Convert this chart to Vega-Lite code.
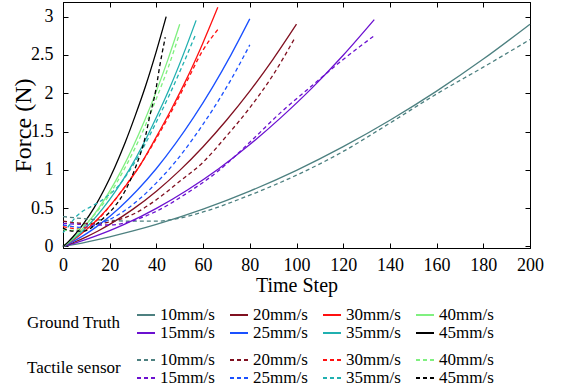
{
  "$schema": "https://vega.github.io/schema/vega-lite/v6.json",
  "width": 467,
  "height": 246,
  "autosize": {"type": "none"},
  "padding": {"left": 63, "top": 2, "right": 32, "bottom": 144},
  "background": "white",
  "config": {
    "font": "Liberation Serif",
    "view": {"stroke": "black", "strokeWidth": 1},
    "axis": {"domainColor": "black", "tickColor": "black", "labelColor": "black", "titleColor": "black", "grid": false, "labelFont": "Liberation Serif", "titleFont": "Liberation Serif", "labelFontSize": 18, "titleFontWeight": "normal", "tickSize": -5, "domainWidth": 1, "labelFlush": false},
    "legend": {"symbolType": "stroke", "symbolSize": 324, "symbolStrokeWidth": 2, "labelFontSize": 17, "titleFontSize": 17, "titleFontWeight": "normal", "titleOrient": "left", "titleAnchor": "middle", "titleBaseline": "middle", "titlePadding": 15, "columns": 4, "columnPadding": 11, "rowPadding": 0, "labelOffset": 4, "labelFont": "Liberation Serif", "titleFont": "Liberation Serif", "labelColor": "black", "titleColor": "black", "padding": 0, "direction": "horizontal"}
  },
  "data": {"values": [
    {"s":"GT","v":"10mm/s","t":0,"f":0},{"s":"GT","v":"10mm/s","t":10,"f":0.058},{"s":"GT","v":"10mm/s","t":20,"f":0.126},{"s":"GT","v":"10mm/s","t":30,"f":0.202},{"s":"GT","v":"10mm/s","t":40,"f":0.288},{"s":"GT","v":"10mm/s","t":60,"f":0.487},{"s":"GT","v":"10mm/s","t":80,"f":0.722},{"s":"GT","v":"10mm/s","t":100,"f":0.993},{"s":"GT","v":"10mm/s","t":120,"f":1.302},{"s":"GT","v":"10mm/s","t":140,"f":1.647},{"s":"GT","v":"10mm/s","t":160,"f":2.027},{"s":"GT","v":"10mm/s","t":180,"f":2.445},{"s":"GT","v":"10mm/s","t":200,"f":2.9},
    {"s":"GT","v":"15mm/s","t":0,"f":0},{"s":"GT","v":"15mm/s","t":6.7,"f":0.059},{"s":"GT","v":"15mm/s","t":13.3,"f":0.128},{"s":"GT","v":"15mm/s","t":20,"f":0.206},{"s":"GT","v":"15mm/s","t":26.7,"f":0.294},{"s":"GT","v":"15mm/s","t":40,"f":0.497},{"s":"GT","v":"15mm/s","t":53.3,"f":0.737},{"s":"GT","v":"15mm/s","t":66.7,"f":1.014},{"s":"GT","v":"15mm/s","t":80,"f":1.329},{"s":"GT","v":"15mm/s","t":93.3,"f":1.681},{"s":"GT","v":"15mm/s","t":106.7,"f":2.069},{"s":"GT","v":"15mm/s","t":120,"f":2.495},{"s":"GT","v":"15mm/s","t":133.3,"f":2.96},
    {"s":"GT","v":"20mm/s","t":0,"f":0},{"s":"GT","v":"20mm/s","t":5,"f":0.058},{"s":"GT","v":"20mm/s","t":10,"f":0.126},{"s":"GT","v":"20mm/s","t":15,"f":0.202},{"s":"GT","v":"20mm/s","t":20,"f":0.288},{"s":"GT","v":"20mm/s","t":30,"f":0.487},{"s":"GT","v":"20mm/s","t":40,"f":0.722},{"s":"GT","v":"20mm/s","t":50,"f":0.993},{"s":"GT","v":"20mm/s","t":60,"f":1.302},{"s":"GT","v":"20mm/s","t":70,"f":1.647},{"s":"GT","v":"20mm/s","t":80,"f":2.027},{"s":"GT","v":"20mm/s","t":90,"f":2.445},{"s":"GT","v":"20mm/s","t":100,"f":2.9},
    {"s":"GT","v":"25mm/s","t":0,"f":0},{"s":"GT","v":"25mm/s","t":4,"f":0.06},{"s":"GT","v":"25mm/s","t":8,"f":0.129},{"s":"GT","v":"25mm/s","t":12,"f":0.207},{"s":"GT","v":"25mm/s","t":16,"f":0.295},{"s":"GT","v":"25mm/s","t":24,"f":0.499},{"s":"GT","v":"25mm/s","t":32,"f":0.74},{"s":"GT","v":"25mm/s","t":40,"f":1.017},{"s":"GT","v":"25mm/s","t":48,"f":1.334},{"s":"GT","v":"25mm/s","t":56,"f":1.687},{"s":"GT","v":"25mm/s","t":64,"f":2.076},{"s":"GT","v":"25mm/s","t":72,"f":2.504},{"s":"GT","v":"25mm/s","t":80,"f":2.97},
    {"s":"GT","v":"30mm/s","t":0,"f":0},{"s":"GT","v":"30mm/s","t":3.3,"f":0.063},{"s":"GT","v":"30mm/s","t":6.6,"f":0.135},{"s":"GT","v":"30mm/s","t":9.9,"f":0.217},{"s":"GT","v":"30mm/s","t":13.3,"f":0.31},{"s":"GT","v":"30mm/s","t":19.9,"f":0.524},{"s":"GT","v":"30mm/s","t":26.5,"f":0.777},{"s":"GT","v":"30mm/s","t":33.2,"f":1.069},{"s":"GT","v":"30mm/s","t":39.8,"f":1.42},{"s":"GT","v":"30mm/s","t":46.4,"f":1.79},{"s":"GT","v":"30mm/s","t":53,"f":2.19},{"s":"GT","v":"30mm/s","t":59.7,"f":2.64},{"s":"GT","v":"30mm/s","t":66.3,"f":3.12},
    {"s":"GT","v":"35mm/s","t":0,"f":0},{"s":"GT","v":"35mm/s","t":2.85,"f":0.059},{"s":"GT","v":"35mm/s","t":5.7,"f":0.128},{"s":"GT","v":"35mm/s","t":8.55,"f":0.206},{"s":"GT","v":"35mm/s","t":11.4,"f":0.293},{"s":"GT","v":"35mm/s","t":17.1,"f":0.496},{"s":"GT","v":"35mm/s","t":22.8,"f":0.735},{"s":"GT","v":"35mm/s","t":28.5,"f":1.01},{"s":"GT","v":"35mm/s","t":34.2,"f":1.325},{"s":"GT","v":"35mm/s","t":39.9,"f":1.68},{"s":"GT","v":"35mm/s","t":45.6,"f":2.062},{"s":"GT","v":"35mm/s","t":51.3,"f":2.487},{"s":"GT","v":"35mm/s","t":57,"f":2.95},
    {"s":"GT","v":"40mm/s","t":0,"f":0},{"s":"GT","v":"40mm/s","t":2.5,"f":0.058},{"s":"GT","v":"40mm/s","t":5,"f":0.126},{"s":"GT","v":"40mm/s","t":7.5,"f":0.202},{"s":"GT","v":"40mm/s","t":10,"f":0.288},{"s":"GT","v":"40mm/s","t":15,"f":0.487},{"s":"GT","v":"40mm/s","t":20,"f":0.722},{"s":"GT","v":"40mm/s","t":25,"f":0.993},{"s":"GT","v":"40mm/s","t":30,"f":1.302},{"s":"GT","v":"40mm/s","t":35,"f":1.647},{"s":"GT","v":"40mm/s","t":40,"f":2.027},{"s":"GT","v":"40mm/s","t":45,"f":2.445},{"s":"GT","v":"40mm/s","t":50,"f":2.9},
    {"s":"GT","v":"45mm/s","t":0,"f":0},{"s":"GT","v":"45mm/s","t":2.2,"f":0.06},{"s":"GT","v":"45mm/s","t":4.4,"f":0.13},{"s":"GT","v":"45mm/s","t":6.6,"f":0.209},{"s":"GT","v":"45mm/s","t":8.8,"f":0.298},{"s":"GT","v":"45mm/s","t":13.3,"f":0.504},{"s":"GT","v":"45mm/s","t":17.7,"f":0.747},{"s":"GT","v":"45mm/s","t":22.1,"f":1.028},{"s":"GT","v":"45mm/s","t":26.5,"f":1.347},{"s":"GT","v":"45mm/s","t":30.9,"f":1.704},{"s":"GT","v":"45mm/s","t":35.4,"f":2.097},{"s":"GT","v":"45mm/s","t":39.8,"f":2.529},{"s":"GT","v":"45mm/s","t":44.2,"f":3.0},
    {"s":"TS","v":"10mm/s","t":0,"f":0.39},{"s":"TS","v":"10mm/s","t":10,"f":0.36},{"s":"TS","v":"10mm/s","t":20,"f":0.34},{"s":"TS","v":"10mm/s","t":30,"f":0.33},{"s":"TS","v":"10mm/s","t":40,"f":0.33},{"s":"TS","v":"10mm/s","t":50,"f":0.37},{"s":"TS","v":"10mm/s","t":60,"f":0.45},{"s":"TS","v":"10mm/s","t":80,"f":0.67},{"s":"TS","v":"10mm/s","t":100,"f":0.93},{"s":"TS","v":"10mm/s","t":120,"f":1.24},{"s":"TS","v":"10mm/s","t":140,"f":1.61},{"s":"TS","v":"10mm/s","t":160,"f":1.99},{"s":"TS","v":"10mm/s","t":180,"f":2.34},{"s":"TS","v":"10mm/s","t":200,"f":2.7},
    {"s":"TS","v":"15mm/s","t":0,"f":0.3},{"s":"TS","v":"15mm/s","t":6.7,"f":0.29},{"s":"TS","v":"15mm/s","t":13.3,"f":0.28},{"s":"TS","v":"15mm/s","t":20,"f":0.28},{"s":"TS","v":"15mm/s","t":26.7,"f":0.31},{"s":"TS","v":"15mm/s","t":40,"f":0.46},{"s":"TS","v":"15mm/s","t":53.3,"f":0.7},{"s":"TS","v":"15mm/s","t":66.7,"f":0.99},{"s":"TS","v":"15mm/s","t":80,"f":1.36},{"s":"TS","v":"15mm/s","t":93.3,"f":1.75},{"s":"TS","v":"15mm/s","t":106.7,"f":2.1},{"s":"TS","v":"15mm/s","t":120,"f":2.44},{"s":"TS","v":"15mm/s","t":133.3,"f":2.75},
    {"s":"TS","v":"20mm/s","t":0,"f":0.33},{"s":"TS","v":"20mm/s","t":5,"f":0.31},{"s":"TS","v":"20mm/s","t":10,"f":0.3},{"s":"TS","v":"20mm/s","t":15,"f":0.3},{"s":"TS","v":"20mm/s","t":20,"f":0.32},{"s":"TS","v":"20mm/s","t":30,"f":0.42},{"s":"TS","v":"20mm/s","t":40,"f":0.61},{"s":"TS","v":"20mm/s","t":50,"f":0.85},{"s":"TS","v":"20mm/s","t":60,"f":1.1},{"s":"TS","v":"20mm/s","t":70,"f":1.44},{"s":"TS","v":"20mm/s","t":80,"f":1.81},{"s":"TS","v":"20mm/s","t":90,"f":2.24},{"s":"TS","v":"20mm/s","t":99.3,"f":2.72},
    {"s":"TS","v":"25mm/s","t":0,"f":0.28},{"s":"TS","v":"25mm/s","t":4,"f":0.26},{"s":"TS","v":"25mm/s","t":8,"f":0.25},{"s":"TS","v":"25mm/s","t":12,"f":0.26},{"s":"TS","v":"25mm/s","t":16,"f":0.3},{"s":"TS","v":"25mm/s","t":24,"f":0.42},{"s":"TS","v":"25mm/s","t":32,"f":0.6},{"s":"TS","v":"25mm/s","t":40,"f":0.83},{"s":"TS","v":"25mm/s","t":48,"f":1.1},{"s":"TS","v":"25mm/s","t":56,"f":1.42},{"s":"TS","v":"25mm/s","t":64,"f":1.78},{"s":"TS","v":"25mm/s","t":72,"f":2.18},{"s":"TS","v":"25mm/s","t":80,"f":2.63},
    {"s":"TS","v":"30mm/s","t":0,"f":0.26},{"s":"TS","v":"30mm/s","t":3.3,"f":0.24},{"s":"TS","v":"30mm/s","t":6.6,"f":0.23},{"s":"TS","v":"30mm/s","t":9.9,"f":0.25},{"s":"TS","v":"30mm/s","t":13.3,"f":0.31},{"s":"TS","v":"30mm/s","t":19.9,"f":0.52},{"s":"TS","v":"30mm/s","t":26.5,"f":0.78},{"s":"TS","v":"30mm/s","t":33.2,"f":1.07},{"s":"TS","v":"30mm/s","t":39.8,"f":1.4},{"s":"TS","v":"30mm/s","t":46.4,"f":1.76},{"s":"TS","v":"30mm/s","t":53,"f":2.15},{"s":"TS","v":"30mm/s","t":59.7,"f":2.55},{"s":"TS","v":"30mm/s","t":66.3,"f":2.83},
    {"s":"TS","v":"35mm/s","t":0,"f":0.18},{"s":"TS","v":"35mm/s","t":2,"f":0.25},{"s":"TS","v":"35mm/s","t":4,"f":0.33},{"s":"TS","v":"35mm/s","t":6,"f":0.4},{"s":"TS","v":"35mm/s","t":8,"f":0.45},{"s":"TS","v":"35mm/s","t":12,"f":0.52},{"s":"TS","v":"35mm/s","t":16,"f":0.59},{"s":"TS","v":"35mm/s","t":20,"f":0.68},{"s":"TS","v":"35mm/s","t":24,"f":0.8},{"s":"TS","v":"35mm/s","t":28.5,"f":0.99},{"s":"TS","v":"35mm/s","t":34.2,"f":1.28},{"s":"TS","v":"35mm/s","t":39.9,"f":1.62},{"s":"TS","v":"35mm/s","t":45.6,"f":1.98},{"s":"TS","v":"35mm/s","t":51.3,"f":2.37},{"s":"TS","v":"35mm/s","t":57,"f":2.78},
    {"s":"TS","v":"40mm/s","t":0,"f":0.22},{"s":"TS","v":"40mm/s","t":2.5,"f":0.21},{"s":"TS","v":"40mm/s","t":5,"f":0.21},{"s":"TS","v":"40mm/s","t":7.5,"f":0.24},{"s":"TS","v":"40mm/s","t":10,"f":0.3},{"s":"TS","v":"40mm/s","t":15,"f":0.47},{"s":"TS","v":"40mm/s","t":20,"f":0.68},{"s":"TS","v":"40mm/s","t":25,"f":0.94},{"s":"TS","v":"40mm/s","t":30,"f":1.23},{"s":"TS","v":"40mm/s","t":35,"f":1.56},{"s":"TS","v":"40mm/s","t":40,"f":1.93},{"s":"TS","v":"40mm/s","t":45,"f":2.33},{"s":"TS","v":"40mm/s","t":49.5,"f":2.74},
    {"s":"TS","v":"45mm/s","t":0,"f":0.24},{"s":"TS","v":"45mm/s","t":4.4,"f":0.2},{"s":"TS","v":"45mm/s","t":8.8,"f":0.2},{"s":"TS","v":"45mm/s","t":13.3,"f":0.27},{"s":"TS","v":"45mm/s","t":17.7,"f":0.38},{"s":"TS","v":"45mm/s","t":22.1,"f":0.52},{"s":"TS","v":"45mm/s","t":26.5,"f":0.72},{"s":"TS","v":"45mm/s","t":30.9,"f":1.02},{"s":"TS","v":"45mm/s","t":35.4,"f":1.45},{"s":"TS","v":"45mm/s","t":37,"f":1.68},{"s":"TS","v":"45mm/s","t":39.8,"f":2.05},{"s":"TS","v":"45mm/s","t":41.3,"f":2.33},{"s":"TS","v":"45mm/s","t":43.8,"f":2.73}
  ]},
  "layer": [
    {
      "transform": [{"filter": "datum.s === 'GT'"}],
      "mark": {"type": "line", "strokeWidth": 1.3, "interpolate": "monotone"},
      "encoding": {
        "x": {"field": "t", "type": "quantitative", "scale": {"domain": [0, 200], "nice": false}, "axis": {"orient": "bottom", "title": "Time Step", "titleFontSize": 20, "titleFontWeight": "normal", "values": [0,20,40,60,80,100,120,140,160,180,200], "labelPadding": 13, "titlePadding": 1}},
        "y": {"field": "f", "type": "quantitative", "scale": {"domain": [-0.02, 3.19], "nice": false, "zero": false}, "axis": {"orient": "left", "title": "Force (N)", "titleFontSize": 24, "titleFontWeight": "normal", "values": [0,0.5,1,1.5,2,2.5,3], "labelExpr": "'' + datum.value", "labelPadding": 15, "titlePadding": -5}},
        "color": {"field": "v", "type": "nominal", "scale": {"domain": ["10mm/s","20mm/s","30mm/s","40mm/s","15mm/s","25mm/s","35mm/s","45mm/s"], "range": ["#4d8080","#801020","#ff1010","#80f080","#6b10d0","#1a50ff","#20b0b0","#000000"]}, "legend": {"title": "Ground Truth", "orient": "none", "legendX": -36, "legendY": 303}}
      }
    },
    {
      "transform": [{"filter": "datum.s === 'TS'"}],
      "mark": {"type": "line", "strokeWidth": 1.3, "strokeDash": [4, 3], "interpolate": "monotone"},
      "encoding": {
        "x": {"field": "t", "type": "quantitative", "scale": {"domain": [0, 200], "nice": false}, "axis": {"orient": "top", "title": null, "labels": false, "values": [0,20,40,60,80,100,120,140,160,180,200]}},
        "y": {"field": "f", "type": "quantitative", "scale": {"domain": [-0.02, 3.19], "nice": false, "zero": false}, "axis": {"orient": "right", "title": null, "labels": false, "values": [0,0.5,1,1.5,2,2.5,3]}},
        "color": {"field": "v", "type": "nominal", "scale": {"domain": ["10mm/s","20mm/s","30mm/s","40mm/s","15mm/s","25mm/s","35mm/s","45mm/s"], "range": ["#4d8080","#801020","#ff1010","#80f080","#6b10d0","#1a50ff","#20b0b0","#000000"]}, "legend": {"title": "Tactile sensor", "orient": "none", "legendX": -36, "legendY": 348, "symbolDash": [4, 3]}}
      }
    }
  ],
  "resolve": {"scale": {"color": "independent"}, "axis": {"x": "independent", "y": "independent"}, "legend": {"color": "independent"}}
}
